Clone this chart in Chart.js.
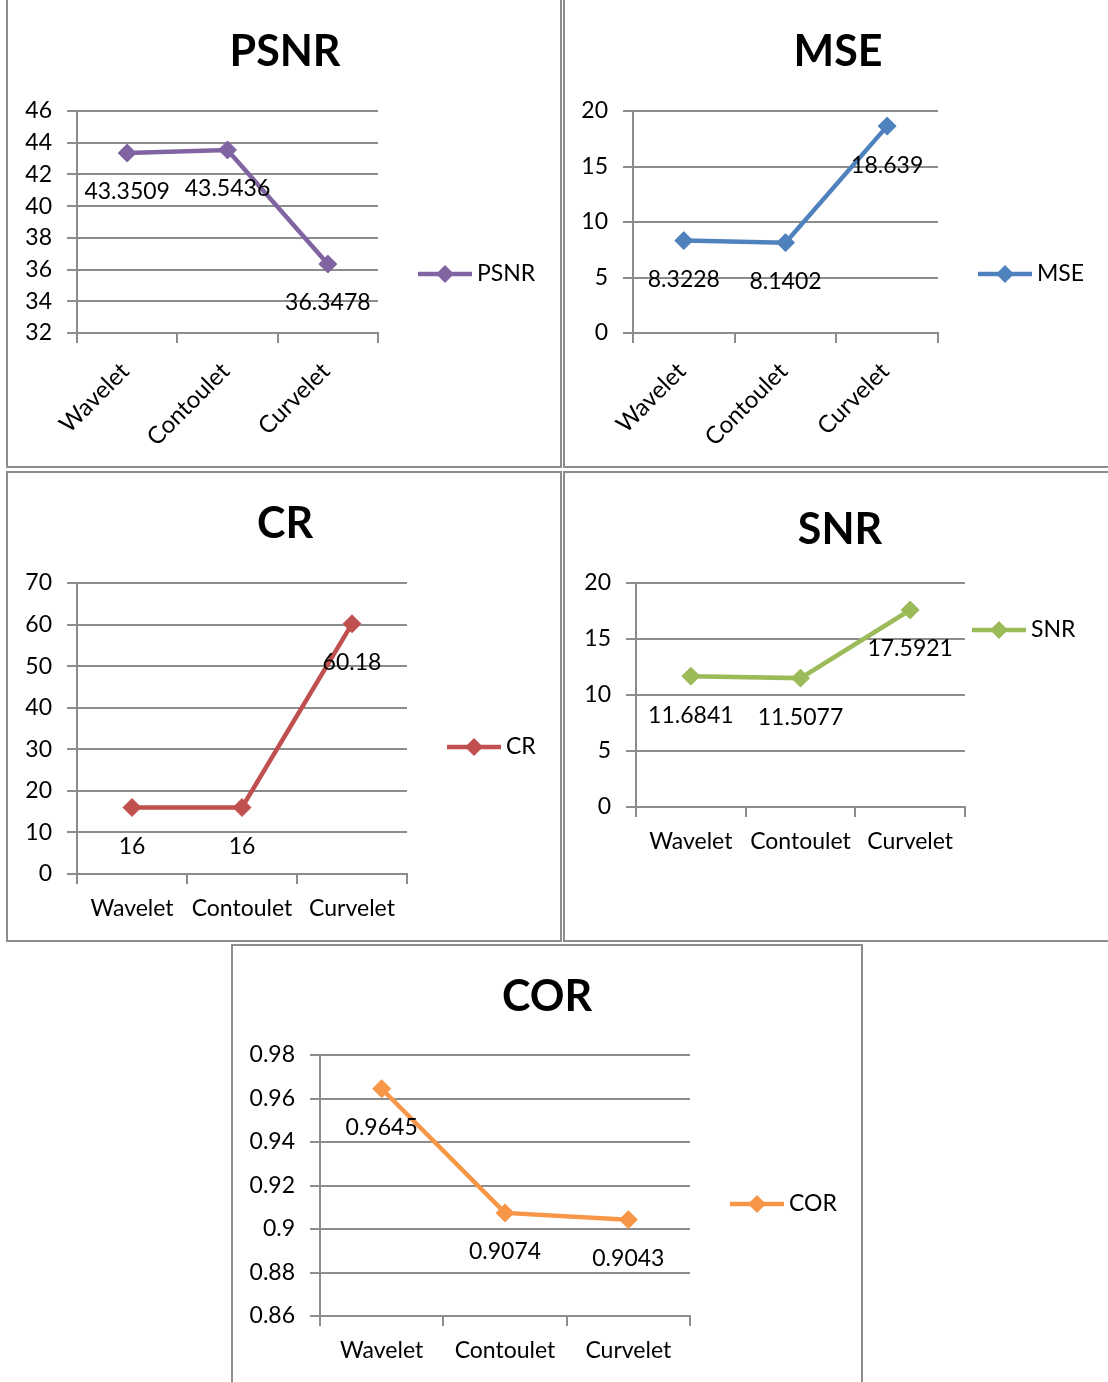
<!DOCTYPE html>
<html><head><meta charset="utf-8">
<script src="https://cdn.jsdelivr.net/npm/chart.js@4/dist/chart.umd.min.js"></script>
<style>
html,body{margin:0;padding:0;background:#fff;width:1108px;height:1382px;overflow:hidden;}
body{position:relative;}
canvas{position:absolute;left:0;top:0;}
.box{position:absolute;box-sizing:border-box;border:2px solid #8c8c8c;}
</style></head><body>
<div class="box" style="left:6px;top:-4px;width:556px;height:472px"></div>
<div class="box" style="left:563px;top:-4px;width:600px;height:472px"></div>
<div class="box" style="left:6px;top:471px;width:556px;height:471px"></div>
<div class="box" style="left:563px;top:471px;width:600px;height:471px"></div>
<div class="box" style="left:231px;top:944px;width:632px;height:500px"></div>
<canvas id="c0" width="1108" height="1382"></canvas>
<canvas id="c1" width="1108" height="1382"></canvas>
<canvas id="c2" width="1108" height="1382"></canvas>
<canvas id="c3" width="1108" height="1382"></canvas>
<canvas id="c4" width="1108" height="1382"></canvas>
<script>
const categories = ['Wavelet', 'Contoulet', 'Curvelet'];
const psnrValues = [43.3509, 43.5436, 36.3478];
const mseValues = [8.3228, 8.1402, 18.639];
const crValues = [16, 16, 60.18];
const snrValues = [11.6841, 11.5077, 17.5921];
const corValues = [0.9645, 0.9074, 0.9043];
const psnrTicks = [32, 46, 2];
const mseTicks = [0, 20, 5];
const crTicks = [0, 70, 10];
const snrTicks = [0, 20, 5];
const corTicks = [0.86, 0.98, 0.02];

const FONT = 'Lato, "Open Sans", sans-serif';
const GRID = '#8c8c8c';
const W = 1108, H = 1382;

const panels = [
  {id:'c0', name:'PSNR', values:psnrValues, ticks:psnrTicks, color:'#8064A2',
   area:{l:77,t:111,r:378,b:333}, title:[285,52], legend:[418,274], rot:45, xPad:14, labelOffset:-2, xSize:24},
  {id:'c1', name:'MSE', values:mseValues, ticks:mseTicks, color:'#4F81BD',
   area:{l:633,t:111,r:938,b:333}, title:[838,52], legend:[978,274], rot:45, xPad:14, labelOffset:-2, xSize:24},
  {id:'c2', name:'CR', values:crValues, ticks:crTicks, color:'#C0504D',
   area:{l:77,t:583,r:407,b:874}, title:[285,524], legend:[447,747], rot:0, xPad:11, labelOffset:0, xSize:23},
  {id:'c3', name:'SNR', values:snrValues, ticks:snrTicks, color:'#9BBB59',
   area:{l:636,t:583,r:965,b:807}, title:[840,530], legend:[972,630], rot:0, xPad:11, labelOffset:0, xSize:23},
  {id:'c4', name:'COR', values:corValues, ticks:corTicks, color:'#F79646',
   area:{l:320,t:1055,r:690,b:1316}, title:[547,997], legend:[730,1204], rot:0, xPad:11, labelOffset:0, xSize:23}
];

function diamond(ctx, x, y, r, color) {
  ctx.beginPath();
  ctx.moveTo(x, y - r); ctx.lineTo(x + r, y); ctx.lineTo(x, y + r); ctx.lineTo(x - r, y);
  ctx.closePath();
  ctx.fillStyle = color; ctx.fill();
}

function decor(p) {
  return {
    id: 'decor' + p.id,
    afterDatasetsDraw(chart) {
      const ctx = chart.ctx;
      ctx.save();
      ctx.fillStyle = '#000';
      ctx.font = 'bold 43px ' + FONT;
      ctx.textAlign = 'center'; ctx.textBaseline = 'middle';
      ctx.fillText(p.name, p.title[0], p.title[1]);
      ctx.font = '23px ' + FONT;
      const meta = chart.getDatasetMeta(0);
      meta.data.forEach((pt, i) => {
        ctx.fillText(String(p.values[i]), pt.x, pt.y + 39);
      });
      const [lx, ly] = p.legend;
      ctx.strokeStyle = p.color; ctx.lineWidth = 4.5; ctx.lineCap = 'butt';
      ctx.beginPath(); ctx.moveTo(lx, ly); ctx.lineTo(lx + 54, ly); ctx.stroke();
      diamond(ctx, lx + 27, ly, 9, p.color);
      ctx.fillStyle = '#000'; ctx.textAlign = 'left';
      ctx.fillText(p.name, lx + 59, ly);
      ctx.restore();
    }
  };
}

function makeChart(p) {
  const YW = Math.min(100, p.area.l), XH = 110;
  const [mn, mx, st] = p.ticks;
  new Chart(document.getElementById(p.id), {
    type: 'line',
    data: {
      labels: categories,
      datasets: [{
        label: p.name, data: p.values,
        borderColor: p.color, backgroundColor: p.color, borderWidth: 4.5,
        pointStyle: 'rectRot', pointRadius: 9, pointBorderWidth: 1,
        pointBackgroundColor: p.color, pointBorderColor: p.color,
        tension: 0, fill: false
      }]
    },
    options: {
      responsive: false, animation: false, events: [],
      layout: {padding: {left: p.area.l - YW, top: p.area.t, right: W - p.area.r, bottom: H - p.area.b - XH}},
      plugins: {legend: {display: false}, tooltip: {enabled: false}, title: {display: false}},
      scales: {
        x: {
          offset: true,
          grid: {offset: true, drawOnChartArea: false, drawTicks: true, tickLength: 10, color: GRID, lineWidth: 2},
          border: {display: true, color: GRID, width: 2},
          ticks: {color: '#000', font: {family: FONT, size: p.xSize}, padding: p.xPad,
                  minRotation: p.rot, maxRotation: p.rot, autoSkip: false, labelOffset: p.labelOffset},
          afterFit: s => { s.height = XH; }
        },
        y: {
          min: mn, max: mx,
          ticks: {stepSize: st, color: '#000', font: {family: FONT, size: 23}, padding: 15,
                  callback: v => String(+(+v).toFixed(2))},
          grid: {color: GRID, lineWidth: 2, tickLength: 10},
          border: {display: true, color: GRID, width: 2},
          afterFit: s => { s.width = YW; }
        }
      }
    },
    plugins: [decor(p)]
  });
}

panels.forEach(makeChart);
</script>
</body></html>
